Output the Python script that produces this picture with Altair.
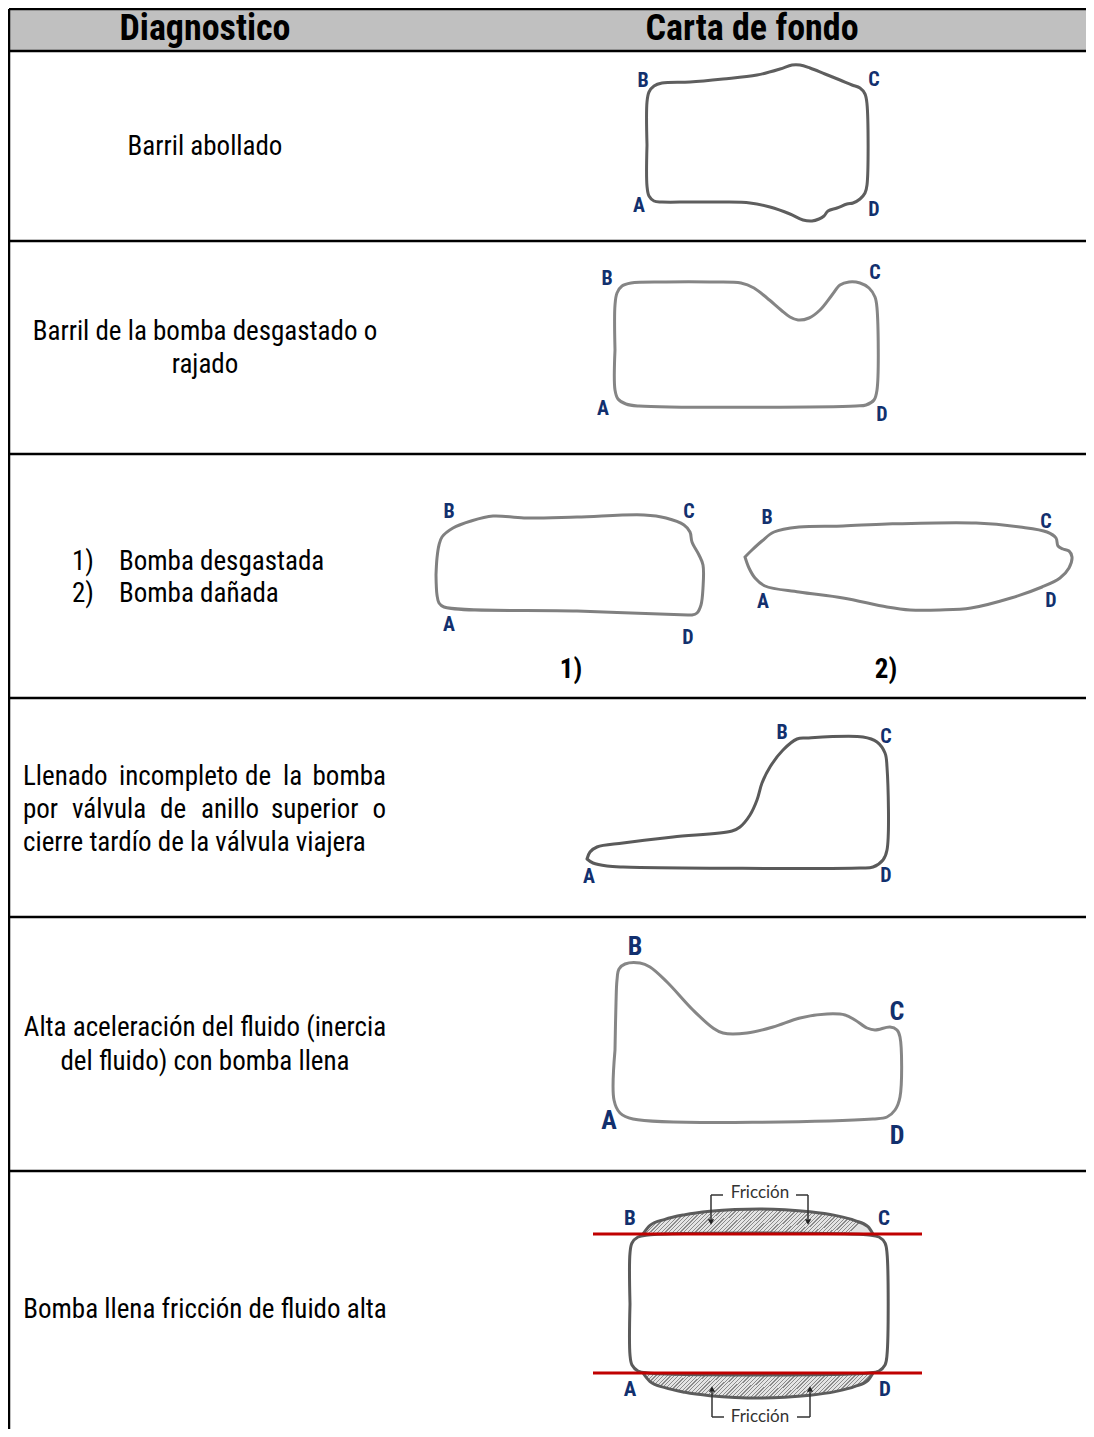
import altair as alt
import pandas as pd

# ---------------- table structure (pixel space of the page) ----------------
row_lines_y = [9, 51, 241, 454, 698, 917, 1171]
table_left = 9
table_right = 1086
table_bottom = 1429
header_top, header_bottom = 9, 51

header_texts = ["Diagnostico", "Carta de fondo"]
header_x = [205, 752]
header_y = [29, 29]

diag_lines = ["Barril abollado", "Barril de la bomba desgastado o", "rajado",
              "Alta aceleración del fluido (inercia", "del fluido) con bomba llena",
              "Bomba llena fricción de fluido alta"]
diag_x = [205, 205, 205, 205, 205, 205]
diag_y = [147, 332, 365, 1028, 1062, 1310]

list_nums = ["1)", "2)"]
list_num_x = [72, 72]
list_items = ["Bomba desgastada", "Bomba dañada"]
list_item_x = [119, 119]
list_y = [562, 594]

# justified paragraph (row 4): words starting at the left, last words flush right
just_words = ["Llenado", "incompleto", "de", "la",
              "por", "válvula", "de", "anillo", "superior",
              "cierre tardío de la válvula viajera"]
just_x = [23, 119, 245, 283, 23, 72, 160, 201, 271, 23]
just_y = [777, 777, 777, 777, 810, 810, 810, 810, 810, 843]
just_end_words = ["bomba", "o"]
just_end_x = [386, 386]
just_end_y = [777, 810]

sub_labels = ["1)", "2)"]
sub_x = [571, 886]
sub_y = [670, 670]

# ---------------- dynamometer card outlines ----------------
s1_x = [647, 647, 649, 654, 662, 690, 723, 757, 780, 792, 800, 810, 825, 840, 852, 860, 865, 867, 867,
        865, 860, 853, 847, 837, 828, 824, 819, 812, 803, 790, 770, 750, 723, 690, 662, 654, 649, 647, 647]
s1_y = [145, 102, 92, 86, 83, 82, 79, 75, 69, 65, 65, 68, 74, 80, 85, 88, 94, 104, 185,
        193, 199, 203, 204, 208, 211, 216, 219, 221, 220, 214, 207, 203, 202, 202, 202, 201, 196, 186, 145]

s2_x = [615, 615, 617, 622, 631, 666, 710, 741, 754, 767, 781, 790, 798, 809, 820, 832, 840, 849, 860,
        869, 875, 877, 877, 874, 866, 856, 639, 626, 618, 615, 615]
s2_y = [350, 305, 293, 286, 283, 282, 282, 283, 288, 298, 310, 317, 320, 318, 310, 295, 285, 282, 283,
        288, 297, 308, 390, 400, 405, 406, 406, 404, 399, 390, 350]

s3a_x = [436, 437, 439, 442, 453, 471, 493, 524, 577, 644, 666, 684, 690, 692, 699, 703, 703, 701, 697,
         692, 688, 577, 444, 439, 437, 436]
s3a_y = [575, 558, 545, 537, 528, 521, 516, 518, 517, 515, 518, 525, 532, 542, 555, 565, 588, 605, 613,
         615, 615, 611, 607, 603, 595, 575]

s3b_x = [745, 752, 762, 774, 799, 843, 887, 976, 1020, 1047, 1056, 1058, 1063, 1069, 1072, 1069, 1060,
         1042, 1011, 971, 940, 910, 887, 843, 799, 765, 755, 749, 745]
s3b_y = [557, 550, 541, 532, 527, 526, 524, 523, 527, 532, 538, 546, 549, 551, 557, 568, 578,
         587, 598, 608, 610, 610, 607, 598, 592, 586, 578, 568, 557]

s4_x = [587, 590, 597, 623, 673, 732, 740, 750, 757, 762, 770, 783, 797, 807, 863, 877, 885, 887, 887,
        883, 873, 860, 623, 607, 593, 587]
s4_y = [859, 852, 847, 843, 837, 831, 827, 815, 800, 783, 767, 750, 739, 738, 737, 742, 753, 767, 850,
        860, 867, 868, 867, 866, 863, 859]

s5_x = [615, 616, 617, 619, 625, 640, 650, 667, 693, 713, 723, 747, 773, 800, 827, 845, 855, 867, 875,
        890, 897, 900, 900, 895, 887, 873, 633, 620, 614, 615]
s5_y = [1050, 1003, 980, 969, 964, 963, 967, 982, 1010, 1028, 1033, 1033, 1027, 1018, 1014, 1015, 1020,
        1028, 1030, 1027, 1030, 1037, 1097, 1110, 1117, 1119, 1119, 1113, 1100, 1050]

s6_x = [630, 630, 632, 638, 648, 869, 879, 885, 887, 887, 885, 879, 869, 648, 638, 632, 630, 630]
s6_y = [1304, 1253, 1243, 1237, 1235, 1235, 1237, 1243, 1253, 1355, 1365, 1371, 1373, 1373, 1371,
        1365, 1355, 1304]

# friction caps (row 6)
cap_x = [643, 650, 665, 685, 710, 735, 760, 785, 810, 835, 855, 868, 873]
cap_top_y = [1234, 1225.4, 1219.3, 1214.7, 1211.3, 1209.5, 1209, 1209.7, 1211.7, 1215.4, 1220.6, 1226.7, 1234]
cap_bot_y = [1373, 1381.6, 1387.7, 1392.3, 1395.7, 1397.5, 1398, 1397.3, 1395.3, 1391.6, 1386.4, 1380.3, 1373]
red_line_y = [1234, 1373]
red_x1, red_x2 = 593, 922

# bracket segments of the "Fricción" callouts
br_x1 = [711, 711, 796, 808, 712, 712, 810, 797]
br_y1 = [1195, 1195, 1195, 1195, 1392, 1417, 1392, 1417]
br_x2 = [723, 711, 808, 808, 712, 724, 810, 810]
br_y2 = [1195, 1219, 1195, 1219, 1417, 1417, 1417, 1417]
arrow_down_x = [711, 808]
arrow_down_y = [1222, 1222]
arrow_up_x = [712, 810]
arrow_up_y = [1389, 1389]
fric_text = ["Fricción", "Fricción"]
fric_x = [760, 760]
fric_y = [1193, 1417]

# A/B/C/D corner labels per card
lab_names = ["A", "B", "C", "D"]
labels = {
    "r1": ([639, 643, 874, 874], [206, 81, 80, 210]),
    "r2": ([603, 607, 875, 882], [409, 279, 273, 415]),
    "r3a": ([449, 449, 689, 688], [625, 512, 512, 638]),
    "r3b": ([763, 767, 1046, 1051], [602, 518, 522, 601]),
    "r4": ([589, 782, 886, 886], [877, 733, 737, 876]),
    "r5": ([609, 635, 897, 897], [1121, 947, 1012, 1136]),
    "r6": ([630, 630, 884, 885], [1390, 1219, 1219, 1390]),
}

# ---------------- chart ----------------
FONT = "Roboto Condensed, Liberation Sans, sans-serif"
BODY = 27
X = alt.X("x:Q", scale=alt.Scale(domain=[8, 1086], nice=False, zero=False), axis=None)
Y = alt.Y("y:Q", scale=alt.Scale(domain=[8, 1429], nice=False, zero=False, reverse=True), axis=None)

layers = []

hdr = pd.DataFrame({"x": [table_left], "x2": [table_right], "y": [header_top], "y2": [header_bottom]})
layers.append(alt.Chart(hdr).mark_rect(color="#c0c0c0").encode(x=X, x2="x2:Q", y=Y, y2="y2:Q"))

hl = pd.DataFrame({"x": [table_left] * len(row_lines_y), "x2": [table_right] * len(row_lines_y), "y": row_lines_y})
layers.append(alt.Chart(hl).mark_rule(color="#000000", strokeWidth=2.5).encode(x=X, x2="x2:Q", y=Y))
vl = pd.DataFrame({"x": [table_left], "y": [header_top], "y2": [table_bottom]})
layers.append(alt.Chart(vl).mark_rule(color="#000000", strokeWidth=2.5).encode(x=X, y=Y, y2="y2:Q"))

ht = pd.DataFrame({"x": header_x, "y": header_y, "t": header_texts})
layers.append(alt.Chart(ht).mark_text(font=FONT, fontSize=36, fontWeight="bold", color="#000",
                                      baseline="middle", align="center").encode(x=X, y=Y, text="t:N"))

dt = pd.DataFrame({"x": diag_x, "y": diag_y, "t": diag_lines})
layers.append(alt.Chart(dt).mark_text(font=FONT, fontSize=BODY, color="#000",
                                      baseline="middle", align="center").encode(x=X, y=Y, text="t:N"))
ln = pd.DataFrame({"x": list_num_x + list_item_x, "y": list_y + list_y, "t": list_nums + list_items})
layers.append(alt.Chart(ln).mark_text(font=FONT, fontSize=BODY, color="#000",
                                      baseline="middle", align="left").encode(x=X, y=Y, text="t:N"))
jw = pd.DataFrame({"x": just_x, "y": just_y, "t": just_words})
layers.append(alt.Chart(jw).mark_text(font=FONT, fontSize=BODY, color="#000",
                                      baseline="middle", align="left").encode(x=X, y=Y, text="t:N"))
je = pd.DataFrame({"x": just_end_x, "y": just_end_y, "t": just_end_words})
layers.append(alt.Chart(je).mark_text(font=FONT, fontSize=BODY, color="#000",
                                      baseline="middle", align="right").encode(x=X, y=Y, text="t:N"))

sl = pd.DataFrame({"x": sub_x, "y": sub_y, "t": sub_labels})
layers.append(alt.Chart(sl).mark_text(font=FONT, fontSize=27, fontWeight="bold", color="#000",
                                      baseline="middle", align="center").encode(x=X, y=Y, text="t:N"))

stops = []
n = 62
for k in range(n):
    stops.append({"offset": k / n, "color": "#8a8a8a"})
    stops.append({"offset": (k + 0.33) / n, "color": "#8a8a8a"})
    stops.append({"offset": (k + 0.33) / n, "color": "#e4e4e4"})
    stops.append({"offset": (k + 1) / n, "color": "#e4e4e4"})
hatch = {"gradient": "linear", "x1": 0, "y1": 0, "x2": 1, "y2": 0.11, "stops": stops}

cap_top = pd.DataFrame({"x": cap_x, "y": cap_top_y, "y2": [red_line_y[0]] * len(cap_x)})
cap_bot = pd.DataFrame({"x": cap_x, "y": cap_bot_y, "y2": [red_line_y[1]] * len(cap_x)})
for cap in (cap_top, cap_bot):
    layers.append(alt.Chart(cap).mark_area(fill=hatch, interpolate="monotone").encode(x=X, y=Y, y2="y2:Q"))
    layers.append(alt.Chart(cap).mark_line(color="#5c5c5c", strokeWidth=3, interpolate="monotone").encode(x=X, y=Y))

def outline(xs, ys, color):
    df = pd.DataFrame({"x": xs, "y": ys, "i": list(range(len(xs)))})
    return alt.Chart(df).mark_line(interpolate="catmull-rom", color=color, strokeWidth=3,
                                   strokeJoin="round", strokeCap="round").encode(x=X, y=Y, order="i:Q")

layers.append(outline(s1_x, s1_y, "#5e5e5e"))
layers.append(outline(s2_x, s2_y, "#858585"))
layers.append(outline(s3a_x, s3a_y, "#808080"))
layers.append(outline(s3b_x, s3b_y, "#808080"))
layers.append(outline(s4_x, s4_y, "#5a5a5a"))
layers.append(outline(s5_x, s5_y, "#868686"))
layers.append(outline(s6_x, s6_y, "#5a5a5a"))

rl = pd.DataFrame({"x": [red_x1, red_x1], "x2": [red_x2, red_x2], "y": red_line_y})
layers.append(alt.Chart(rl).mark_rule(color="#c00000", strokeWidth=3).encode(x=X, x2="x2:Q", y=Y))

br = pd.DataFrame({"x": br_x1, "y": br_y1, "x2": br_x2, "y2": br_y2})
layers.append(alt.Chart(br).mark_rule(color="#333333", strokeWidth=1.5).encode(x=X, y=Y, x2="x2:Q", y2="y2:Q"))
ad = pd.DataFrame({"x": arrow_down_x, "y": arrow_down_y})
layers.append(alt.Chart(ad).mark_point(shape="triangle-down", filled=True, size=40, color="#222222", opacity=1).encode(x=X, y=Y))
au = pd.DataFrame({"x": arrow_up_x, "y": arrow_up_y})
layers.append(alt.Chart(au).mark_point(shape="triangle-up", filled=True, size=40, color="#222222", opacity=1).encode(x=X, y=Y))
ft = pd.DataFrame({"x": fric_x, "y": fric_y, "t": fric_text})
layers.append(alt.Chart(ft).mark_text(font="Lato", fontSize=17, color="#333333", baseline="middle",
                                      align="center").encode(x=X, y=Y, text="t:N"))

label_sizes = {"r1": 20, "r2": 20, "r3a": 20, "r3b": 20, "r4": 20, "r5": 26, "r6": 21}
for key, (lx, ly) in labels.items():
    df = pd.DataFrame({"x": lx, "y": ly, "t": lab_names})
    layers.append(alt.Chart(df).mark_text(font=FONT, fontWeight="bold", fontSize=label_sizes[key],
                                          color="#12306e", baseline="middle", align="center")
                  .encode(x=X, y=Y, text="t:N"))

chart = alt.layer(*layers).properties(
    width=1078, height=1421, padding=0, autosize=alt.AutoSizeParams(type="none"),
    background="#ffffff"
).configure_view(stroke=None)

chart.save("out.html", embed_options={"renderer": "svg", "actions": False})
